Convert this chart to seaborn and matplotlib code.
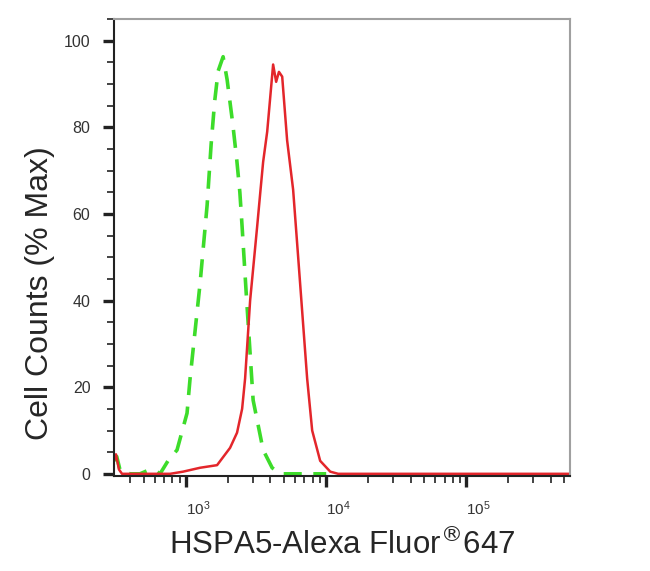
import numpy as np
import pandas as pd
import matplotlib
matplotlib.use('Agg')
import matplotlib.pyplot as plt
import matplotlib.ticker as mticker
import seaborn as sns

# isotype control (green dashed)
control_x = [306, 320, 340, 400, 469, 535, 601, 652, 743, 862, 1016, 1068, 1259, 1413, 1509, 1600, 1694,
             1838, 1963, 2150, 2300, 2420, 2512, 2683, 3010, 3548, 4113, 4693, 7000, 10000]
control_y = [3.0, 4.0, 0.5, 0.0, 0.0, 0.8, 0.8, 0.0, 3.0, 5.5, 14, 22, 44, 62, 76, 86, 93,
             96.3, 91, 81, 72.5, 65, 57, 42, 17, 5.5, 1.4, 0.0, 0.0, 0.0]

# HSPA5 stained (red solid)
hspa5_x = [306, 316, 332, 349, 769, 952, 1259, 1664, 2061, 2311, 2512, 2638, 2865, 3214, 3400, 3548, 3793,
           4181, 4394, 4600, 4853, 5262, 5808, 6310, 7313, 7943, 9057, 10690, 12180, 100000, 550000]
hspa5_y = [3.0, 4.5, 1.0, 0.0, 0.0, 0.5, 1.4, 2.0, 6.0, 9.5, 15, 22, 40, 57, 65.6, 72, 79,
           94.5, 90.5, 92.8, 91.7, 77, 65.6, 50, 22, 10, 3.0, 0.5, 0.0, 0.0, 0.0]

control = pd.DataFrame({'x': control_x, 'y': control_y})
hspa5 = pd.DataFrame({'x': hspa5_x, 'y': hspa5_y})

sns.set_style('white')
plt.rcParams['font.family'] = ['Liberation Sans', 'DejaVu Sans']

fig = plt.figure(figsize=(6.5, 5.71), dpi=100)
ax = fig.add_axes([0.1754, 0.1664, 0.7016, 0.8003])

sns.lineplot(data=control, x='x', y='y', sort=False, estimator=None, ax=ax,
             color='#3ddc2a', linewidth=2.6, linestyle=(0, (5, 3.2)))
sns.lineplot(data=hspa5, x='x', y='y', sort=False, estimator=None, ax=ax,
             color='#e3262b', linewidth=1.8)

ax.set_xscale('log')
ax.set_xlim(306, 550000)
ax.set_ylim(-0.5, 105)

ax.set_yticks([0, 20, 40, 60, 80, 100])
ax.yaxis.set_minor_locator(mticker.MultipleLocator(5))
ax.xaxis.set_major_locator(mticker.FixedLocator([1e3, 1e4, 1e5]))
ax.xaxis.set_minor_locator(mticker.LogLocator(base=10, subs=np.arange(2, 10)))
ax.xaxis.set_minor_formatter(mticker.NullFormatter())
ax.set_xticklabels([r'$\mathregular{10^{3}}$', r'$\mathregular{10^{4}}$', r'$\mathregular{10^{5}}$'],
                   ha='left')

ax.tick_params(axis='both', which='both', bottom=True, left=True, top=False, right=False)
ax.tick_params(axis='both', which='major', direction='out', length=8, width=2.4,
               color='#222222', labelcolor='#333333')
ax.tick_params(axis='both', which='minor', direction='out', length=5, width=1.2,
               color='#222222')
ax.tick_params(axis='y', which='major', labelsize=11.5, pad=9)
ax.tick_params(axis='x', which='major', labelsize=11, pad=9)

for side in ['left', 'bottom']:
    ax.spines[side].set_color('#222222')
    ax.spines[side].set_linewidth(1.5)
for side in ['top', 'right']:
    ax.spines[side].set_color('#a0a0a0')
    ax.spines[side].set_linewidth(1.5)

ax.set_xlabel(r'HSPA5-Alexa Fluor$^{\circledR}$647', fontsize=22.5, labelpad=8)
ax.set_ylabel('Cell Counts (% Max)', fontsize=23)
ax.yaxis.set_label_coords(-0.13, 0.40)

fig.savefig('out.png', dpi=100, facecolor='white')
